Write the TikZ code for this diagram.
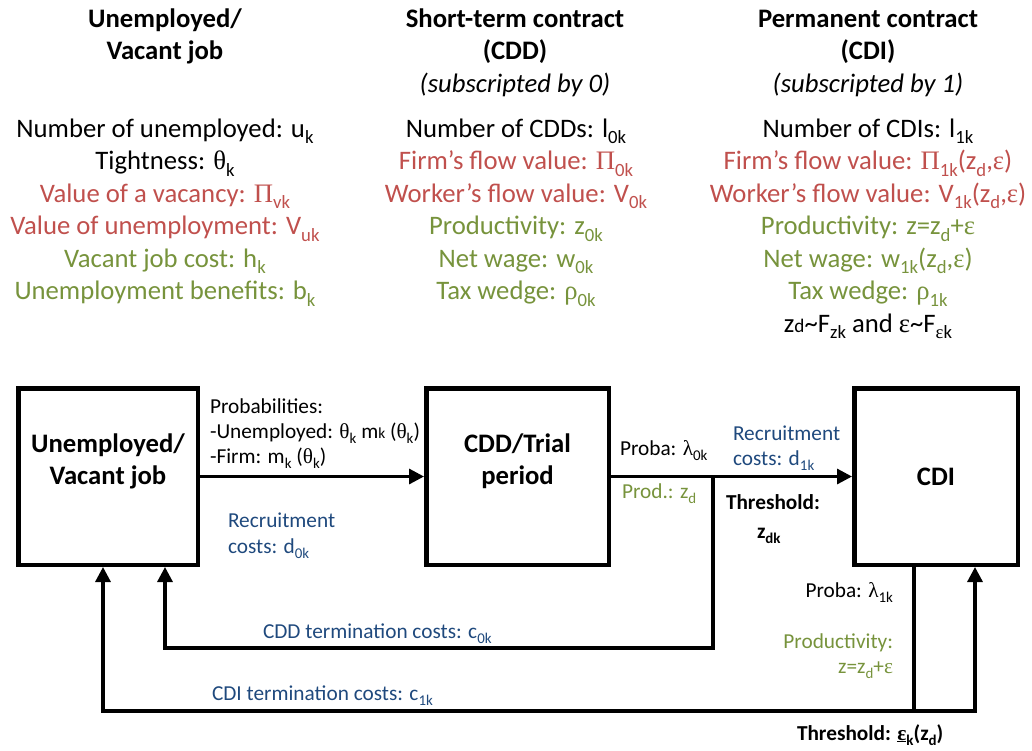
\documentclass[tikz,border=0pt]{standalone}
\usepackage{fontspec}
\usepackage{graphicx}
\setmainfont{Carlito}
\newfontfamily\grk{Liberation Serif}
\usetikzlibrary{arrows.meta}
\definecolor{cred}{HTML}{C0504D}
\definecolor{cgreen}{HTML}{77933C}
\definecolor{cblue}{HTML}{1F497D}
\newcommand\G[1]{{\grk #1}}
\newcommand\sbs[1]{\raisebox{-0.25em}{\scalebox{0.7}{#1}}}
\newcommand\sml[1]{\scalebox{0.72}{#1}}
\begin{document}
\begin{tikzpicture}[x=1pt,y=-1pt,
  every node/.style={inner sep=0pt,outer sep=0pt},
  hd/.style={font=\fontsize{26.7}{32}\selectfont\bfseries,anchor=base},
  hdi/.style={font=\fontsize{26.7}{32}\selectfont\itshape,anchor=base},
  lst/.style={font=\fontsize{26.7}{32}\selectfont,anchor=base},
  sm/.style={font=\fontsize{21.3}{25}\selectfont,anchor=base west},
  smr/.style={font=\fontsize{21.3}{25}\selectfont,anchor=base east},
  smb/.style={font=\fontsize{21.3}{25}\selectfont\bfseries,anchor=base west},
  blabel/.style={font=\fontsize{26.7}{32}\selectfont\bfseries,anchor=base},
  box/.style={draw,line width=4.5pt,outer sep=2.25pt},
  conn/.style={line width=3.2pt},
  tip/.style={-{Triangle[length=15pt,width=15pt]}}]
\useasboundingbox (0,0) rectangle (1032,750);

% headers
\node[hd] (h1a) at (165,27) {Unemployed/};
\node[hd] (h1b) at (165,59) {Vacant job};
\node[hd] (h2a) at (515,27) {Short-term contract};
\node[hd] (h2b) at (515,59) {(CDD)};
\node[hdi] (h2c) at (515,92) {(subscripted by 0)};
\node[hd] (h3a) at (868,27) {Permanent contract};
\node[hd] (h3b) at (868,59) {(CDI)};
\node[hdi] (h3c) at (868,92) {(subscripted by 1)};

% column 1
\node[lst] (u1) at (165,137) {Number of unemployed: u\sbs{k}};
\node[lst] (u2) at (165,169.5) {Tightness: \G{θ}\sbs{k}};
\node[lst,text=cred] (u3) at (165,202) {Value of a vacancy: \G{Π}\sbs{vk}};
\node[lst,text=cred] (u4) at (165,234.5) {Value of unemployment: V\sbs{uk}};
\node[lst,text=cgreen] (u5) at (165,267) {Vacant job cost: h\sbs{k}};
\node[lst,text=cgreen] (u6) at (165,299.5) {Unemployment benefits: b\sbs{k}};

% column 2
\node[lst] (s1) at (516,137) {Number of CDDs: l\sbs{0k}};
\node[lst,text=cred] (s2) at (516,169.5) {Firm’s flow value: \G{Π}\sbs{0k}};
\node[lst,text=cred] (s3) at (516,202) {Worker’s flow value: V\sbs{0k}};
\node[lst,text=cgreen] (s4) at (516,234.5) {Productivity: z\sbs{0k}};
\node[lst,text=cgreen] (s5) at (516,267) {Net wage: w\sbs{0k}};
\node[lst,text=cgreen] (s6) at (516,299.5) {Tax wedge: \G{ρ}\sbs{0k}};

% column 3
\node[lst] (p1) at (868,137) {Number of CDIs: l\sbs{1k}};
\node[lst,text=cred] (p2) at (868,169.5) {Firm’s flow value: \G{Π}\sbs{1k}(z\sbs{d},\G{ε})};
\node[lst,text=cred] (p3) at (868,202) {Worker’s flow value: V\sbs{1k}(z\sbs{d},\G{ε})};
\node[lst,text=cgreen] (p4) at (868,234.5) {Productivity: z=z\sbs{d}+\G{ε}};
\node[lst,text=cgreen] (p5) at (868,267) {Net wage: w\sbs{1k}(z\sbs{d},\G{ε})};
\node[lst,text=cgreen] (p6) at (868,299.5) {Tax wedge: \G{ρ}\sbs{1k}};
\node[lst] (p7) at (868,332) {z\sml{d}\textasciitilde F\sbs{zk} and \G{ε}\textasciitilde F\sbs{\G{ε}k}};

% boxes
\node[box,minimum width=179.5,minimum height=176.5] (b1) at (108,476.5) {};
\node[box,minimum width=182.5,minimum height=176.5] (b2) at (517.5,476.5) {};
\node[box,minimum width=163.5,minimum height=176.5] (b3) at (936,476.5) {};
\node[blabel] (b1a) at (108,452) {Unemployed/};
\node[blabel] (b1b) at (108,484) {Vacant job};
\node[blabel] (b2a) at (517.5,452) {CDD/Trial};
\node[blabel] (b2b) at (517.5,484) {period};
\node[blabel] (b3a) at (936,485) {CDI};

% arrow labels
\node[sm] (a1) at (210,413) {Probabilities:};
\node[sm] (a2) at (210,438) {-Unemployed: \G{θ}\sbs{k} m\sml{k} (\G{θ}\sbs{k})};
\node[sm] (a3) at (210,463) {-Firm: m\sbs{k} (\G{θ}\sbs{k})};
\node[sm,text=cblue] (r1) at (228,527) {Recruitment};
\node[sm,text=cblue] (r2) at (228,553) {costs: d\sbs{0k}};
\node[sm] (q1) at (620,455) {Proba: \G{λ}\sbs{0k}};
\node[sm,text=cblue] (r3) at (733,440) {Recruitment};
\node[sm,text=cblue] (r4) at (733,465) {costs: d\sbs{1k}};
\node[sm,text=cgreen] (q2) at (622,498) {Prod.: z\sbs{d}};
\node[smb] (t1) at (726,509) {Threshold:};
\node[smb] (t2) at (757,538) {z\sbs{dk}};
\node[smr] (q3) at (893,597) {Proba: \G{λ}\sbs{1k}};
\node[smr,text=cgreen] (q4) at (893,648) {Productivity:};
\node[smr,text=cgreen] (q5) at (893,673) {z=z\sbs{d}+\G{ε}};
\node[smb] (t3) at (797,740) {Threshold: \underline{\G{ε}}\sbs{k}(z\sbs{d})};
\node[sm,text=cblue] (c0l) at (263,638) {CDD termination costs: c\sbs{0k}};
\node[sm,text=cblue] (c1l) at (212,700) {CDI termination costs: c\sbs{1k}};

% connectors
\draw[conn,tip] (b1) -- (b2);
\draw[conn,tip] (b2) -- (b3);
\coordinate (j1) at (713,476.5);
\coordinate (j2) at (713,648);
\coordinate (j3) at (165,648);
\draw[conn,tip] (j1) -- (j2) -- (j3) -- (j3 |- b1.south);
\coordinate (k0) at (914,711);
\coordinate (k1) at (975,711);
\coordinate (k2) at (103,711);
\draw[conn] (k0 |- b3.south) -- (k0);
\draw[conn,tip] (k0) -- (k1) -- (k1 |- b3.south);
\draw[conn,tip] (k0) -- (k2) -- (k2 |- b1.south);
\end{tikzpicture}
\end{document}
